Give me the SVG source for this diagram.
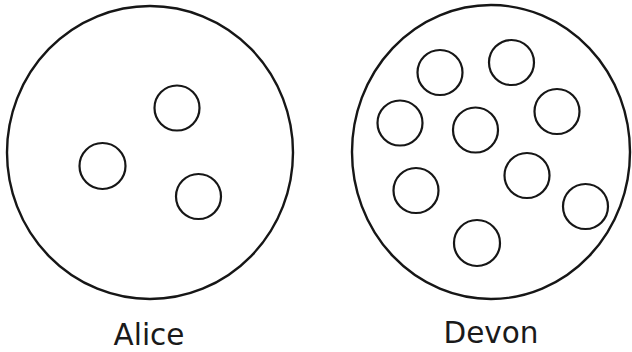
<svg xmlns="http://www.w3.org/2000/svg" width="632" height="352" viewBox="0 0 632 352">
<style>
.big{fill:none;stroke:#161616;stroke-width:2.4}
.sm{fill:none;stroke:#161616;stroke-width:2.2}
.lbl{font-family:"DejaVu Sans","Liberation Sans",sans-serif;font-size:29.5px;fill:#1a1a1a;text-anchor:middle}
</style>
<rect width="632" height="352" fill="#ffffff"/>
<g id="alice">
<ellipse class="big" cx="150" cy="152.5" rx="143" ry="146.5"/>
<circle class="sm" cx="177" cy="108" r="22.5"/>
<circle class="sm" cx="102.5" cy="166" r="23"/>
<circle class="sm" cx="198.5" cy="196.5" r="22.5"/>
<text class="lbl" x="149" y="345">Alice</text>
</g>
<g id="devon">
<ellipse class="big" cx="491" cy="152" rx="139" ry="147"/>
<circle class="sm" cx="440" cy="72.5" r="22.5"/>
<circle class="sm" cx="511.5" cy="62.5" r="22.5"/>
<circle class="sm" cx="400" cy="123" r="22.5"/>
<circle class="sm" cx="475.5" cy="130" r="22.5"/>
<circle class="sm" cx="557" cy="111.5" r="22.5"/>
<circle class="sm" cx="416" cy="190.5" r="22.5"/>
<circle class="sm" cx="527" cy="175.5" r="22.5"/>
<circle class="sm" cx="585.5" cy="206.5" r="22.5"/>
<circle class="sm" cx="477" cy="243" r="23"/>
<text class="lbl" x="491" y="343">Devon</text>
</g>
<g id="connectors"/>
</svg>
